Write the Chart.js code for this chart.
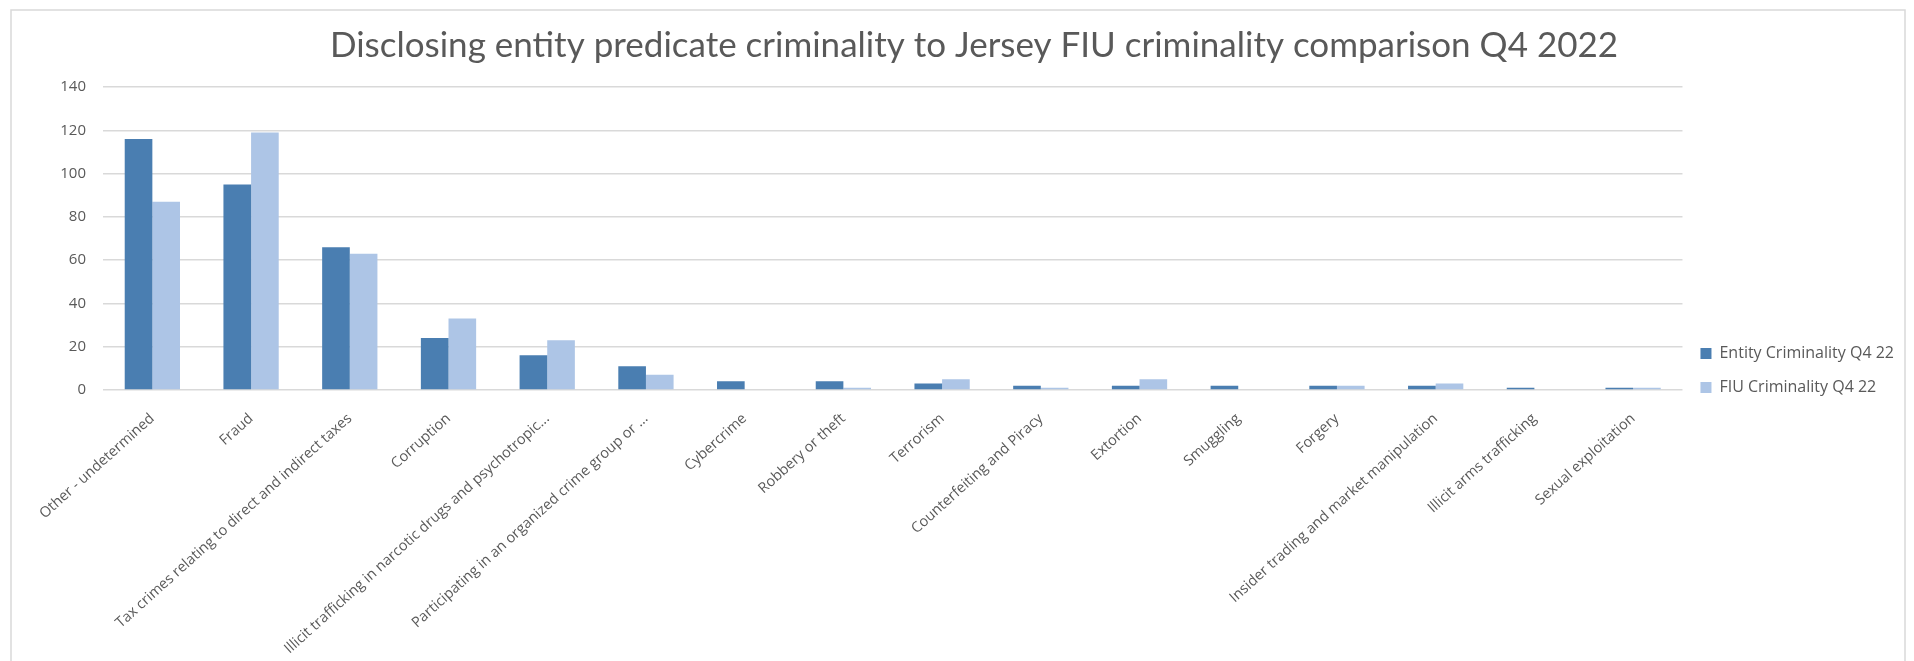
<!DOCTYPE html>
<html>
<head>
<meta charset="utf-8">
<script src="https://cdn.jsdelivr.net/npm/chart.js@4.4.0/dist/chart.umd.min.js"></script>
<style>
    html, body { margin: 0; padding: 0; background: #fff; }
    #wrap { width: 1914px; height: 661px; position: relative; }
</style>
</head>
<body>
<div id="wrap"><canvas id="crimeChart"></canvas></div>
<script>
// --- Data ---
const categories = [
    'Other - undetermined',
    'Fraud',
    'Tax crimes relating to direct and indirect taxes',
    'Corruption',
    'Illicit trafficking in narcotic drugs and psychotropic...',
    'Participating in an organized crime group or ...',
    'Cybercrime',
    'Robbery or theft',
    'Terrorism',
    'Counterfeiting and Piracy',
    'Extortion',
    'Smuggling',
    'Forgery',
    'Insider trading and market manipulation',
    'Illicit arms trafficking',
    'Sexual exploitation'
];
const entityValues = [116, 95, 66, 24, 16, 11, 4, 4, 3, 2, 2, 2, 2, 2, 1, 1];
const fiuValues    = [87, 119, 63, 33, 23, 7, 0, 1, 5, 1, 5, 0, 2, 3, 0, 1];
const yTicks = [0, 20, 40, 60, 80, 100, 120, 140];

const textColor = '#595959';
const labelFont = '"Open Sans", "Noto Sans", sans-serif';
const titleFont = 'Lato, "Open Sans", sans-serif';

// light frame round the whole chart, like the Excel chart area border
const framePlugin = {
    id: 'frame',
    beforeDraw(chart) {
        const c = chart.ctx;
        c.save();
        c.fillStyle = '#ffffff';
        c.fillRect(0, 0, chart.width, chart.height);
        c.strokeStyle = '#d9d9d9';
        c.lineWidth = 1.5;
        c.strokeRect(11, 10, chart.width - 20, chart.height - 8);
        c.restore();
    }
};

const ctx = document.getElementById('crimeChart').getContext('2d');
new Chart(ctx, {
    type: 'bar',
    data: {
        labels: categories,
        datasets: [{
            label: 'Entity Criminality Q4 22',
            data: entityValues,
            backgroundColor: '#4a7eb1',
            categoryPercentage: 0.56,
            barPercentage: 1.0
        }, {
            label: 'FIU Criminality Q4 22',
            data: fiuValues,
            backgroundColor: '#adc5e6',
            categoryPercentage: 0.56,
            barPercentage: 1.0
        }]
    },
    options: {
        responsive: true,
        maintainAspectRatio: false,
        animation: false,
        layout: { padding: { left: 44, right: 10, top: 0, bottom: 0 } },
        scales: {
            x: {
                grid: { display: false },
                border: { display: false },
                ticks: {
                    color: textColor,
                    font: { family: labelFont, size: 14.5 },
                    minRotation: 42,
                    maxRotation: 42,
                    autoSkip: false,
                    padding: 12
                },
                afterFit(scale) { scale.height = 271; }
            },
            y: {
                min: 0,
                max: 140,
                afterBuildTicks(scale) {
                    scale.ticks = yTicks.map(v => ({ value: v }));
                },
                grid: {
                    color: '#d9d9d9',
                    lineWidth: 1.5,
                    drawTicks: false
                },
                border: { display: false },
                ticks: {
                    color: textColor,
                    font: { family: labelFont, size: 15 },
                    padding: 17
                },
                afterFit(scale) { scale.width = 59; }
            }
        },
        plugins: {
            title: {
                display: true,
                text: 'Disclosing entity predicate criminality to Jersey FIU criminality comparison Q4 2022',
                color: textColor,
                font: { family: titleFont, size: 35, weight: 'normal' },
                padding: { top: 25, bottom: 20 }
            },
            legend: {
                position: 'right',
                align: 'center',
                maxWidth: 224,
                title: {
                    display: true,
                    text: ' ',
                    font: { size: 10 },
                    padding: { top: 34, bottom: 34 }
                },
                labels: {
                    color: textColor,
                    font: { family: labelFont, size: 16 },
                    boxWidth: 11,
                    boxHeight: 11,
                    padding: 18
                }
            },
            tooltip: { enabled: false }
        }
    },
    plugins: [framePlugin]
});
</script>
</body>
</html>
